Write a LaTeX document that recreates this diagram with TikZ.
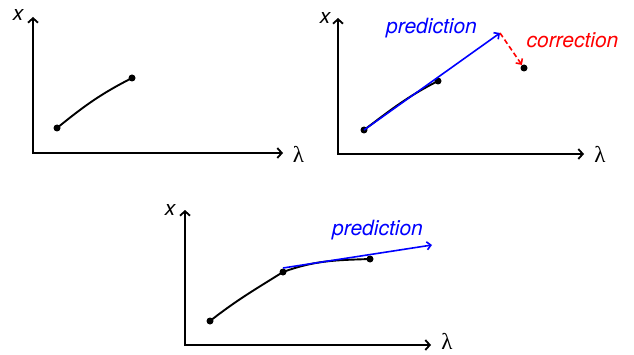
\documentclass[tikz,border=0pt]{standalone}
\usepackage{fontspec}
\setmainfont{TeX Gyre Heros}
\newfontfamily\lamfont{Liberation Serif}
\usetikzlibrary{arrows.meta}
\tikzset{
  axis/.style={line width=1.8pt, {Straight Barb[length=4.5pt,width=10pt]}-{Straight Barb[length=4.5pt,width=10pt]}},
  curve/.style={line width=1.9pt, black},
  dot/.style={circle, fill=black, inner sep=0pt, minimum size=7pt},
  pred/.style={line width=1.6pt, blue, -{Straight Barb[length=4pt,width=8pt]}},
  corr/.style={line width=1.6pt, red, dash pattern=on 5pt off 3pt, -{Straight Barb[length=4pt,width=8pt]}},
  xlab/.style={anchor=base, inner sep=0pt, font=\fontsize{21}{24}\selectfont\itshape},
  llab/.style={inner sep=0pt, font=\fontsize{23}{26}\selectfont\lamfont},
  txt/.style={anchor=base, inner sep=0pt, font=\fontsize{21}{25}\selectfont\itshape}
}
\begin{document}
\begin{tikzpicture}[x=1pt,y=1pt]
\useasboundingbox (0,0) rectangle (634,354);
% panel 1
\coordinate (Y1) at (33,337);
\coordinate (O1) at (33,201);
\coordinate (X1) at (283,201);
\draw[axis] (Y1) -- (O1) -- (X1);
\node[xlab] (xl1) at (18,333) {x};
\node[llab] (ll1) at (298.5,199.5) {λ};
\node[dot] (A1) at (57,226) {};
\node[dot] (B1) at (132,276) {};
\draw[curve] (A1.center) to[out=39,in=207] (B1.center);
% panel 2
\coordinate (Y2) at (338,336);
\coordinate (O2) at (338,200);
\coordinate (X2) at (584,200);
\draw[axis] (Y2) -- (O2) -- (X2);
\node[xlab] (xl2) at (325,330) {x};
\node[llab] (ll2) at (600,199.5) {λ};
\node[dot] (A2) at (364,224) {};
\node[dot] (B2) at (438,273) {};
\node[dot] (C2) at (524,286) {};
\draw[curve] (A2.center) to[out=37,in=207] (B2.center);
\coordinate (P2) at (500,321);
\draw[pred] (A2.center) -- (P2);
\draw[corr] (P2) -- (C2);
\node[txt, blue] (pt2) at (431.5,320) {prediction};
\node[txt, red] (ct2) at (572.5,306.5) {correction};
% panel 3
\coordinate (Y3) at (185,144);
\coordinate (O3) at (185,9);
\coordinate (X3) at (431,9);
\draw[axis] (Y3) -- (O3) -- (X3);
\node[xlab] (xl3) at (170,139) {x};
\node[llab] (ll3) at (447,12.5) {λ};
\node[dot] (A3) at (210,33) {};
\node[dot] (B3) at (283,82) {};
\node[dot] (C3) at (370,95) {};
\draw[curve] (A3.center) to[out=38,in=212] (B3.center) to[out=20,in=182] (C3.center);
\coordinate (S3) at (283,86);
\coordinate (P3) at (432,109);
\draw[pred] (S3) -- (P3);
\node[txt, blue] (pt3) at (377.5,119) {prediction};
\end{tikzpicture}
\end{document}
